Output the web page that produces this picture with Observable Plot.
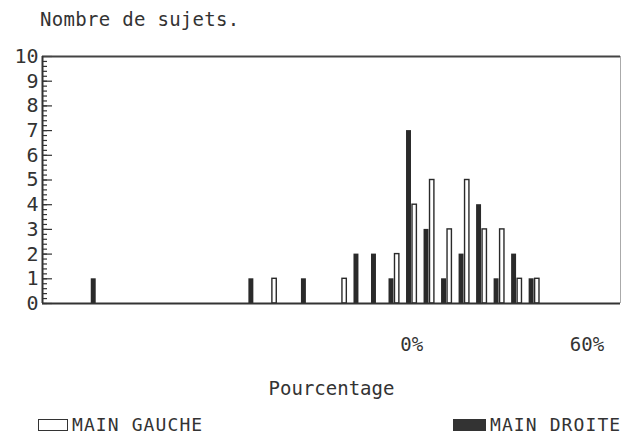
<!DOCTYPE html>
<html>
<head>
<meta charset="utf-8">
<script src="https://cdn.jsdelivr.net/npm/d3@7"></script>
<script src="https://cdn.jsdelivr.net/npm/@observablehq/plot@0.6"></script>
<style>
  html, body { margin: 0; padding: 0; background: #fff; }
  #wrap { position: relative; width: 625px; height: 434px; overflow: hidden;
          font-family: "DejaVu Sans Mono", monospace; color: #333; }
  #title { position: absolute; left: 40px; top: 8px; font-size: 19px; letter-spacing: 0.3px; }
  #chart { position: absolute; left: 0; top: 0; }
  .leg { position: absolute; top: 415px; height: 20px; line-height: 20px; font-size: 18px; display: flex; align-items: center; letter-spacing: 1.1px; white-space: nowrap; }
  .sw { width: 30px; height: 12px; margin-right: 4px; box-sizing: border-box; }
</style>
</head>
<body>
<div id="wrap">
  <div id="chart"></div>
  <div id="title">Nombre de sujets.</div>
  <div class="leg" style="left:38px"><span class="sw" style="border:1.5px solid #333;background:#fff"></span>MAIN GAUCHE</div>
  <div class="leg" style="left:453px"><span class="sw" style="background:#333;width:33px"></span>MAIN DROITE</div>
</div>
<script>
// Class centres (percent)
const rightPct   = [-108, -54, -36, -18, -12, -6, 0, 6, 12, 18, 24, 30, 36, 42];
const rightCount = [   1,   1,   1,   2,   2,  1, 7, 3,  1,  2,  4,  1,  2,  1];
const leftPct    = [-48, -24, -6, 0, 6, 12, 18, 24, 30, 36, 42];
const leftCount  = [  1,   1,  2, 4, 5,  3,  5,  3,  3,  1,  1];
const xTicks = [0, 60];
const yTicks = [0, 1, 2, 3, 4, 5, 6, 7, 8, 9, 10];
const xAxisLabel = "Pourcentage";

const right = rightPct.map((p, i) => ({pct: p, n: rightCount[i]}));
const left = leftPct.map((p, i) => ({pct: p, n: leftCount[i]}));

const W = 625, H = 400, mL = 42, mR = 5, mT = 56, mB = 97;
const frameW = W - mL - mR;
const xDomain = [-126.5, 71.5];
const minor = d3.range(0, 50).map(i => i / 5);

const chart = Plot.plot({
  width: W, height: H,
  marginLeft: mL, marginRight: mR, marginTop: mT, marginBottom: mB,
  style: {fontFamily: "DejaVu Sans Mono, monospace", color: "#333", background: "white"},
  x: {domain: xDomain},
  y: {domain: [0, 10]},
  marks: [
    Plot.rectY(right, {x1: d => d.pct - 1.8, x2: d => d.pct - 0.1, y: "n", fill: "#2a2a2a"}),
    Plot.rectY(left, {x1: d => d.pct + 0.25, x2: d => d.pct + 1.75, y: "n", fill: "white", stroke: "#2a2a2a", strokeWidth: 1.4}),
    Plot.tickY(minor, {y: d => d, insetRight: frameW - 5, stroke: "#333", strokeWidth: 1.2}),
    Plot.tickY(yTicks, {y: d => d, insetRight: frameW - 10, stroke: "#333", strokeWidth: 1.2}),
    Plot.ruleY([0], {stroke: "#333", strokeWidth: 2}),
    Plot.ruleY([10], {stroke: "#444", strokeWidth: 2}),
    Plot.ruleX([xDomain[0]], {stroke: "#333", strokeWidth: 2}),
    Plot.ruleX([xDomain[1]], {stroke: "#aaa", strokeWidth: 1}),
    Plot.axisY(yTicks, {tickSize: 0, tickPadding: 4, fontSize: 20, label: null, tickFormat: d => String(d)}),
    Plot.axisX(xTicks, {tickSize: 0, tickPadding: 34, fontSize: 19, label: null, tickFormat: d => d + "%"}),
    Plot.text([xAxisLabel], {frameAnchor: "bottom", dy: 85, text: d => d, fontSize: 19, lineAnchor: "middle"})
  ]
});
document.getElementById("chart").appendChild(chart);
</script>
</body>
</html>
